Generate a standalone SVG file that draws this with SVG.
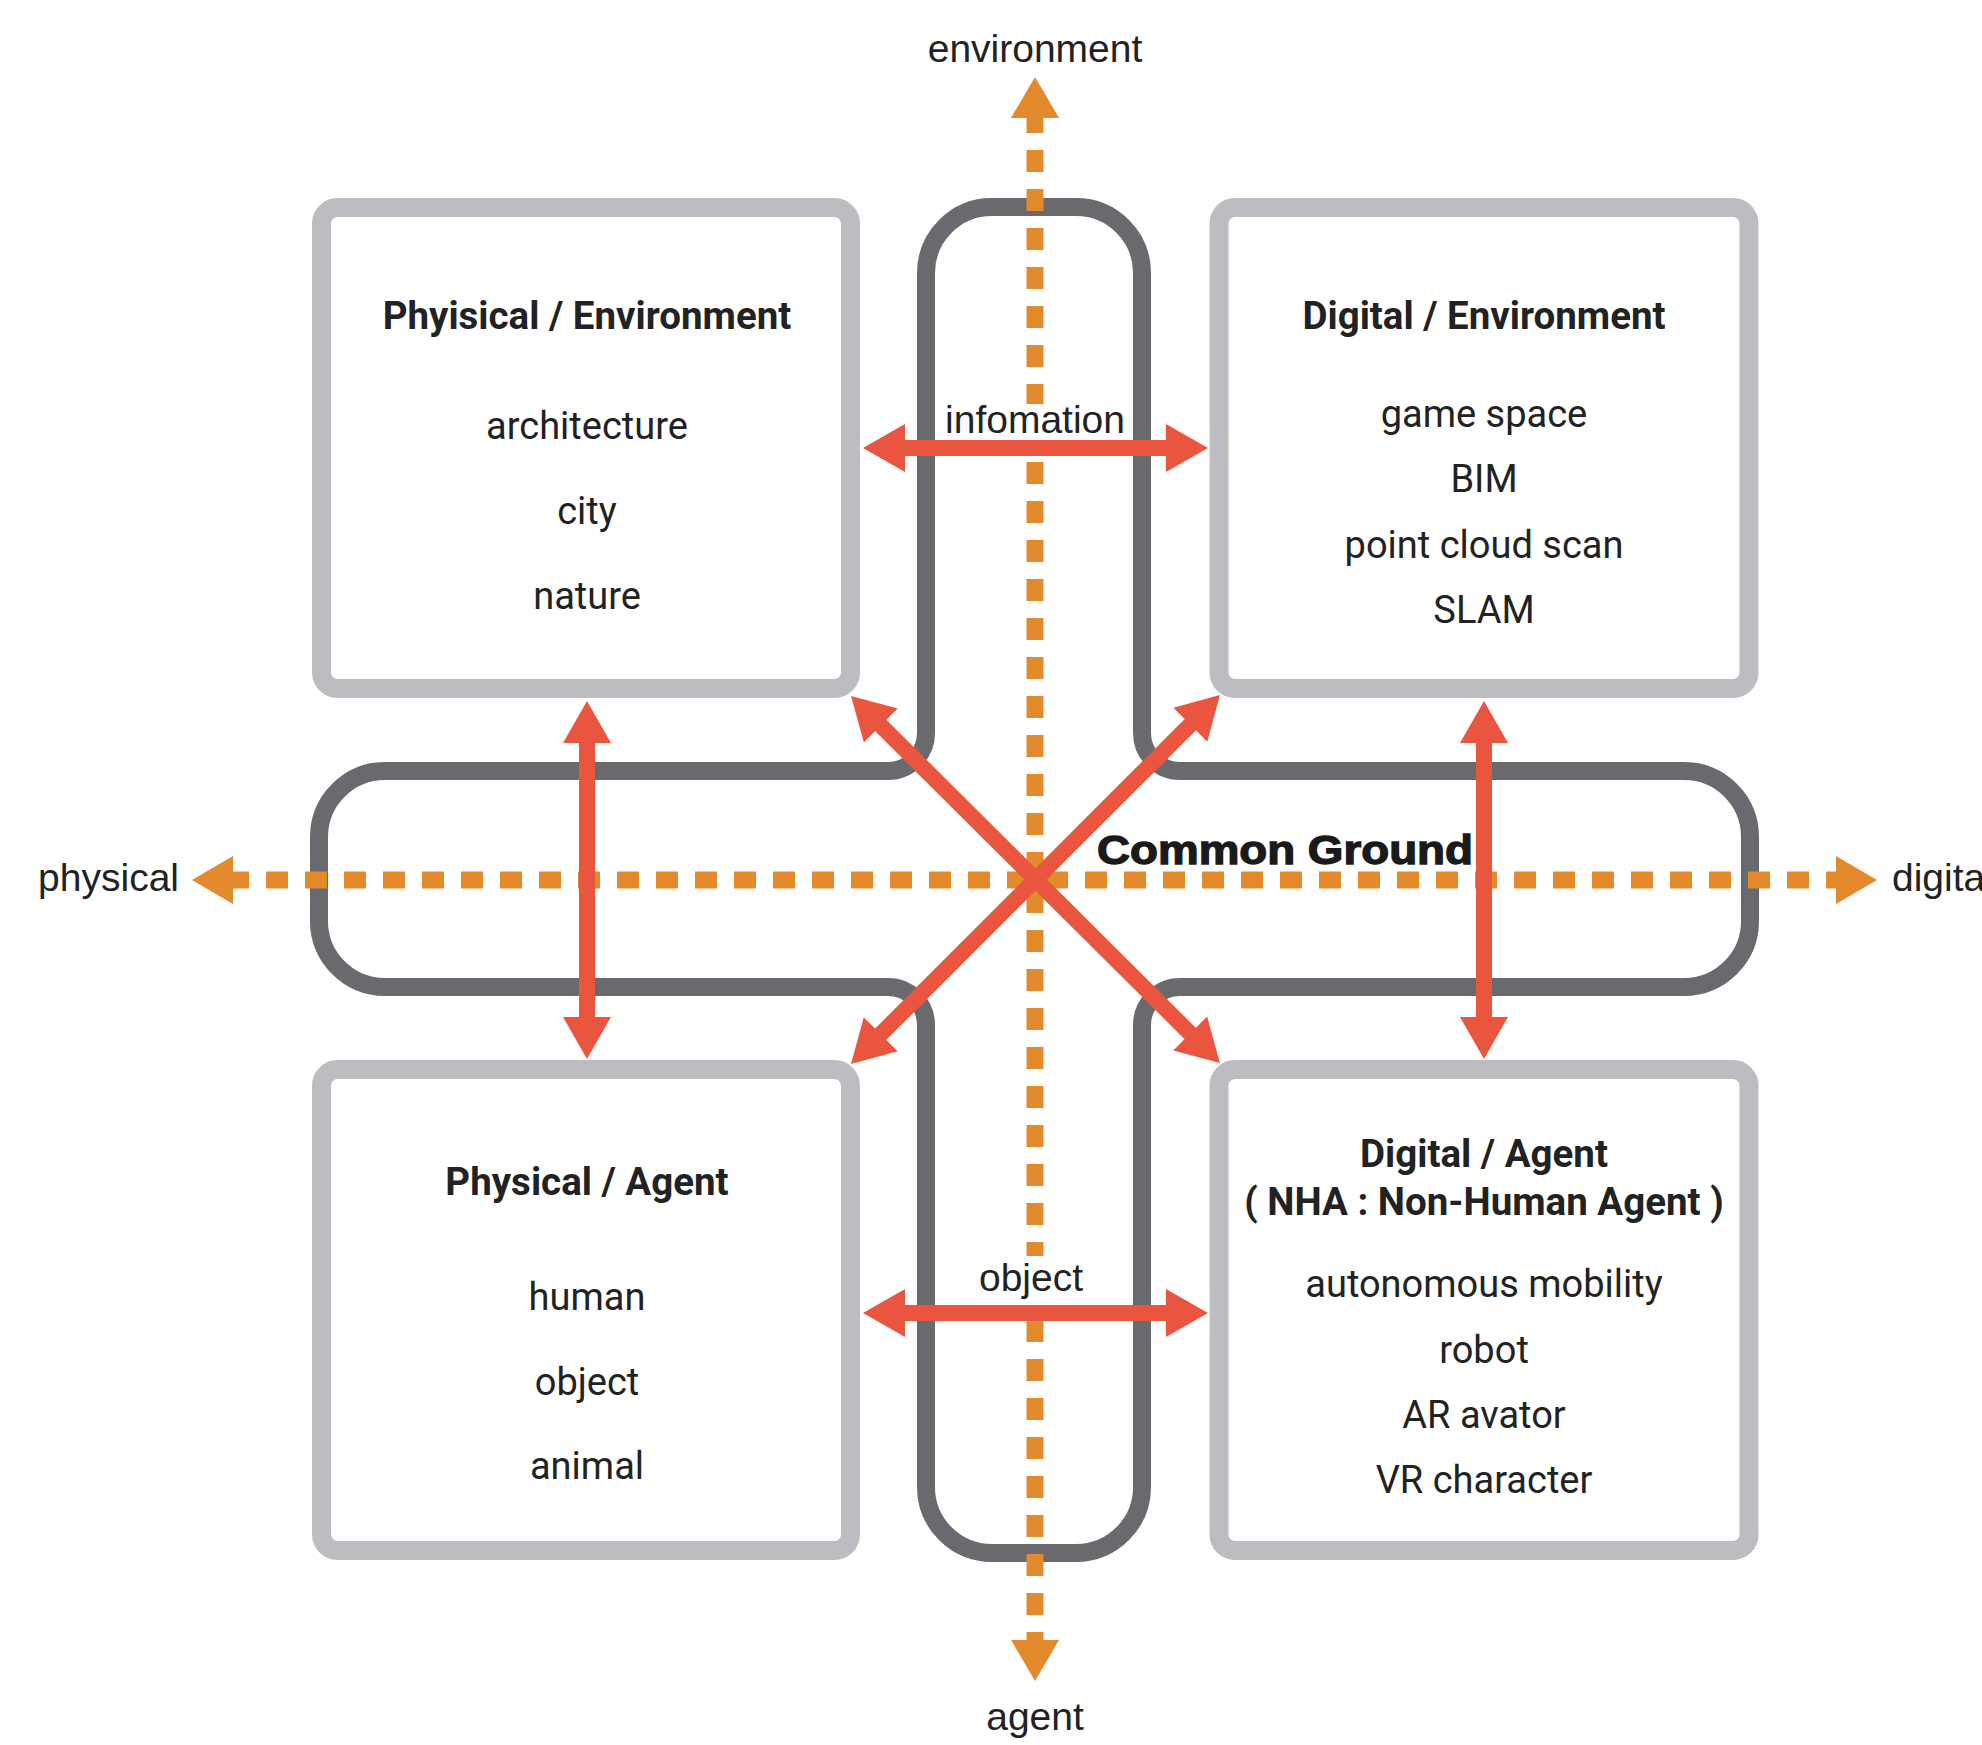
<svg xmlns="http://www.w3.org/2000/svg" width="1982" height="1745" viewBox="0 0 1982 1745">
<style>
.box{fill:#fff;stroke:#BCBDC0;stroke-width:19}
.cross{fill:none;stroke:#696A6E;stroke-width:18}
.axis{fill:none;stroke:#E38B2C;stroke-width:17;stroke-dasharray:22 17}
.ohead{fill:#E38B2C}
.rarrow{fill:none;stroke:#E9553F;stroke-width:16;marker-start:url(#rh);marker-end:url(#rh)}
.lbl{font-family:"Liberation Sans",Arial,sans-serif;font-size:39px;fill:#222;text-anchor:middle}
.ttl{font-family:Roboto,"Liberation Sans",sans-serif;font-weight:700;font-size:38.5px;fill:#222;text-anchor:middle}
.itm{font-family:Roboto,"Liberation Sans",sans-serif;font-size:38px;fill:#222;text-anchor:middle}
.cg{font-family:"Liberation Sans",Arial,sans-serif;font-weight:700;font-size:40px;fill:#1a1a1a;stroke:#1a1a1a;stroke-width:1.3}
</style>
<defs>
<marker id="rh" markerUnits="userSpaceOnUse" markerWidth="44" markerHeight="50" refX="2" refY="24" orient="auto-start-reverse" viewBox="0 0 44 48">
<path d="M0,0 L42,24 L0,48 Z" fill="#E9553F"/>
</marker>
<path id="oh" d="M0,0 L24,41 L-24,41 Z"/>
</defs>
<rect width="1982" height="1745" fill="#fff"/>

<g id="common-ground">
<path class="cross" d="M926,273 A66,66 0 0 1 992,207 L1076,207 A66,66 0 0 1 1142,273 L1142,733 A38,38 0 0 0 1180,771 L1684,771 A66,66 0 0 1 1750,837 L1750,921 A66,66 0 0 1 1684,987 L1180,987 A38,38 0 0 0 1142,1025 L1142,1487 A66,66 0 0 1 1076,1553 L992,1553 A66,66 0 0 1 926,1487 L926,1025 A38,38 0 0 0 888,987 L385,987 A66,66 0 0 1 319,921 L319,837 A66,66 0 0 1 385,771 L888,771 A38,38 0 0 0 926,733 Z"/>
<text class="cg" x="1097" y="864" textLength="376" lengthAdjust="spacingAndGlyphs">Common Ground</text>
</g>

<g id="node-physical-environment">
<rect class="box" x="321.5" y="207.5" width="529" height="481" rx="16"/>
<text class="ttl" x="587" y="329">Phyisical / Environment</text>
<text class="itm" x="587" y="439">architecture</text>
<text class="itm" x="587" y="524">city</text>
<text class="itm" x="587" y="609">nature</text>
</g>

<g id="node-digital-environment">
<rect class="box" x="1219" y="207.5" width="530" height="481" rx="16"/>
<text class="ttl" x="1484" y="329">Digital / Environment</text>
<text class="itm" x="1484" y="427">game space</text>
<text class="itm" x="1484" y="492">BIM</text>
<text class="itm" x="1484" y="558">point cloud scan</text>
<text class="itm" x="1484" y="623">SLAM</text>
</g>

<g id="node-physical-agent">
<rect class="box" x="321.5" y="1069.5" width="529" height="481" rx="16"/>
<text class="ttl" x="587" y="1195">Physical / Agent</text>
<text class="itm" x="587" y="1310">human</text>
<text class="itm" x="587" y="1395">object</text>
<text class="itm" x="587" y="1479">animal</text>
</g>

<g id="node-digital-agent">
<rect class="box" x="1219" y="1069.5" width="530" height="481" rx="16"/>
<text class="ttl" x="1484" y="1167">Digital / Agent</text>
<text class="ttl" x="1484" y="1215">( NHA : Non-Human Agent )</text>
<text class="itm" x="1484" y="1297">autonomous mobility</text>
<text class="itm" x="1484" y="1363">robot</text>
<text class="itm" x="1484" y="1428">AR avator</text>
<text class="itm" x="1484" y="1493">VR character</text>
</g>

<g id="axes">
<path class="axis" d="M227,880 L1850,880"/>
<path class="axis" d="M1035,111 L1035,1650"/>
<use href="#oh" class="ohead" transform="translate(1035,77)"/>
<use href="#oh" class="ohead" transform="translate(1035,1681) rotate(180)"/>
<use href="#oh" class="ohead" transform="translate(192,880) rotate(-90)"/>
<use href="#oh" class="ohead" transform="translate(1877,880) rotate(90)"/>
<text class="lbl" x="1035" y="62">environment</text>
<text class="lbl" x="1035" y="1730">agent</text>
<text class="lbl" x="179" y="891" style="text-anchor:end">physical</text>
<text class="lbl" x="1892" y="891" style="text-anchor:start">digita</text>
</g>

<g id="connectors">
<line class="rarrow" x1="903" y1="448" x2="1168" y2="448"/>
<line class="rarrow" x1="903" y1="1313" x2="1168" y2="1313"/>
<line class="rarrow" x1="587" y1="741" x2="587" y2="1019"/>
<line class="rarrow" x1="1484" y1="741" x2="1484" y2="1019"/>
<line class="rarrow" x1="879.4" y1="724.2" x2="1191.6" y2="1034.8"/>
<line class="rarrow" x1="1191.7" y1="723.3" x2="879.3" y2="1035.7"/>
<rect x="940" y="404" width="190" height="36" fill="#fff"/>
<text class="lbl" x="1035" y="433">infomation</text>
<rect x="972" y="1256" width="118" height="49" fill="#fff"/>
<text class="lbl" x="1031" y="1291">object</text>
</g>
</svg>
